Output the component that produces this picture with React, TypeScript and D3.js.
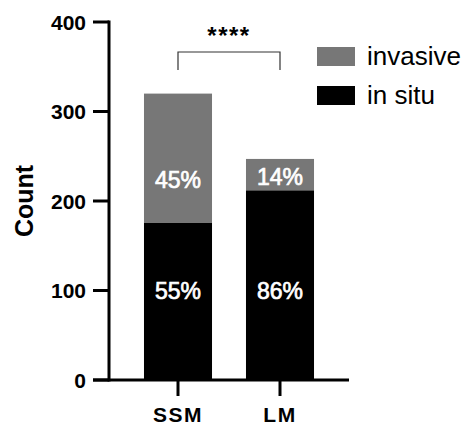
import React from "react";
import * as d3 from "d3";

const categories = ["SSM", "LM"];
const inSitu = [176, 212];
const invasive = [144, 35];
const inSituPct = ["55%", "86%"];
const invasivePct = ["45%", "14%"];
const yTicks = [0, 100, 200, 300, 400];
const seriesNames = ["invasive", "in situ"];
const significance = "****";

const W = 470;
const H = 427;
const FONT = "'Liberation Sans', Arial, Helvetica, sans-serif";
const GRAY = "#777777";

export default function App() {
  const y = d3.scaleLinear().domain([0, 400]).range([380, 22]);
  const x = d3
    .scaleBand<string>()
    .domain(categories)
    .range([109, 349])
    .paddingInner(0.333)
    .paddingOuter(0.343);
  const bw = x.bandwidth();
  const cx = (c: string) => (x(c) as number) + bw / 2;

  const pctStyle = {
    fill: "#fff",
    stroke: "#fff",
    strokeWidth: 0.7,
    fontSize: 23,
  } as const;

  return (
    <svg
      width={W}
      height={H}
      style={{ position: "absolute", left: 0, top: 0, background: "#fff" }}
      fontFamily={FONT}
    >
      {/* bars */}
      {categories.map((c, i) => {
        const x0 = x(c) as number;
        const top1 = y(inSitu[i]);
        const top2 = y(inSitu[i] + invasive[i]);
        return (
          <g key={c}>
            <rect x={x0} y={top1} width={bw} height={y(0) - top1} fill="#000" />
            <rect x={x0} y={top2} width={bw} height={top1 - top2} fill={GRAY} />
            <text x={cx(c)} y={y(100)} dy="0.36em" textAnchor="middle" {...pctStyle}>
              {inSituPct[i]}
            </text>
            <text
              x={cx(c)}
              y={y(i === 0 ? 224 : 227)}
              dy="0.36em"
              textAnchor="middle"
              {...pctStyle}
            >
              {invasivePct[i]}
            </text>
          </g>
        );
      })}

      {/* y axis */}
      <line x1={109} x2={109} y1={y(400) - 1.5} y2={y(0) + 1.5} stroke="#000" strokeWidth={3} />
      {yTicks.map((t) => (
        <g key={t}>
          <line x1={93} x2={109} y1={y(t)} y2={y(t)} stroke="#000" strokeWidth={3} />
          <text
            x={86}
            y={y(t)}
            dy="0.36em"
            textAnchor="end"
            fontSize={21}
            fontWeight="bold"
            fill="#000"
          >
            {t}
          </text>
        </g>
      ))}
      <text
        transform={`translate(24,${(y(0) + y(400)) / 2}) rotate(-90)`}
        textAnchor="middle"
        dy="0.36em"
        fontSize={25}
        fontWeight="bold"
        fill="#000"
      >
        Count
      </text>

      {/* x axis */}
      <line x1={93} x2={349} y1={y(0)} y2={y(0)} stroke="#000" strokeWidth={3} />
      {categories.map((c) => (
        <g key={c}>
          <line x1={cx(c)} x2={cx(c)} y1={y(0)} y2={y(0) + 16} stroke="#000" strokeWidth={3} />
          <text
            x={cx(c)}
            y={422}
            textAnchor="middle"
            fontSize={21}
            fontWeight="bold"
            letterSpacing={1.5}
            fill="#000"
          >
            {c}
          </text>
        </g>
      ))}

      {/* significance bracket */}
      <path
        d={`M${cx(categories[0])},70 V52 H${cx(categories[1])} V70`}
        fill="none"
        stroke="#333"
        strokeWidth={1.2}
      />
      <text
        x={(cx(categories[0]) + cx(categories[1])) / 2}
        y={44}
        textAnchor="middle"
        fontSize={24}
        fontWeight="bold"
        letterSpacing={1.5}
        fill="#000"
      >
        {significance}
      </text>

      {/* legend */}
      {seriesNames.map((s, i) => (
        <g key={s} transform={`translate(317,${47 + i * 39})`}>
          <rect x={0} y={0} width={38} height={19} fill={i === 0 ? GRAY : "#000"} />
          <text x={50} y={18} fontSize={26} fill="#000">
            {s}
          </text>
        </g>
      ))}
    </svg>
  );
}
